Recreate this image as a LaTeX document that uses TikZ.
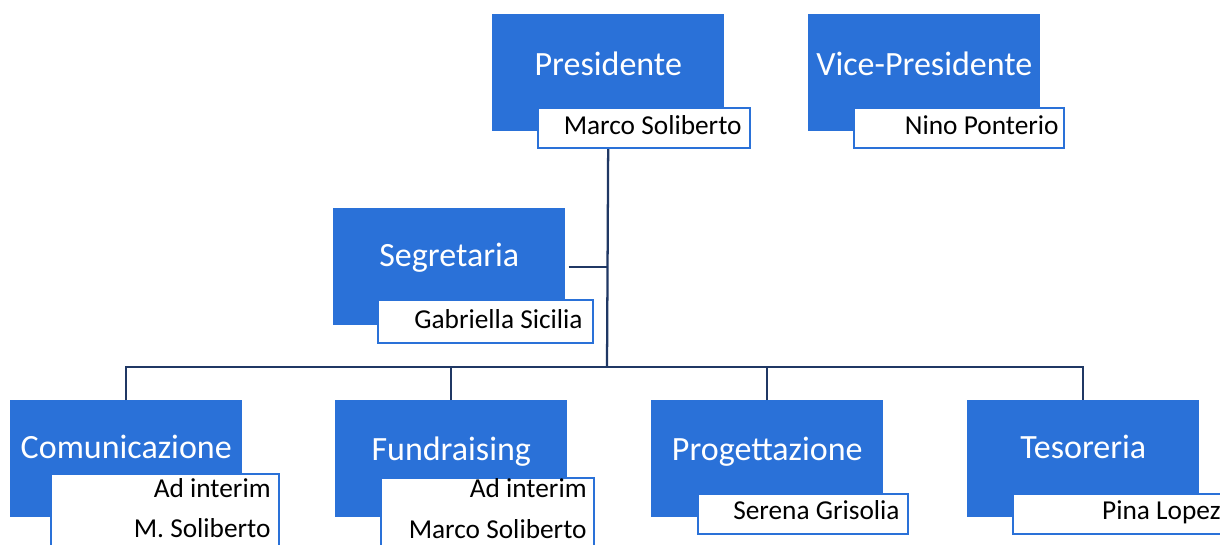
\documentclass[tikz,border=0pt]{standalone}
\usepackage{fontspec}
\setmainfont{Carlito}
\usetikzlibrary{calc}
\definecolor{boxblue}{RGB}{42,113,216}
\definecolor{linenavy}{RGB}{32,56,100}
\begin{document}
\begin{tikzpicture}[x=0.75pt,y=-0.75pt,
  role/.style={rectangle, fill=boxblue, draw=none, minimum width=174pt, minimum height=87.75pt, anchor=north west, inner sep=0pt},
  namebox/.style={rectangle, fill=white, draw=boxblue, line width=1.4pt, anchor=north west, inner sep=0pt},
  roletext/.style={text=white, font=\fontsize{25.5}{30}\selectfont, anchor=base, inner sep=0pt},
  nametext/.style={text=black, font=\fontsize{20.5}{25}\selectfont, anchor=base east, inner sep=0pt},
  conn/.style={draw=linenavy, line width=1.7pt}]
\useasboundingbox (0,0) rectangle (1220,544);
\clip (0,0) rectangle (1220,544);
% role boxes
\node[role] (pres) at (492,14) {};
\node[role] (vp) at (808,14) {};
\node[role] (seg) at (333,208) {};
\node[role] (com) at (10,400) {};
\node[role] (fund) at (335,400) {};
\node[role] (prog) at (651,400) {};
\node[role] (tes) at (967,400) {};
% connectors
\coordinate (bus) at (607,367);
\draw[conn] (pres.south) -- (bus);
\draw[conn] (com.north) |- (bus) -| (tes.north);
\draw[conn] (fund.north) -- (fund.north |- bus);
\draw[conn] (prog.north) -- (prog.north |- bus);
\draw[conn] ([xshift=2.25pt]seg.east) -- (seg.east -| bus);
% name boxes
\node[namebox, minimum width=159pt, minimum height=30pt] (presn) at (537,107) {};
\node[namebox, minimum width=157.5pt, minimum height=30pt] (vpn) at (853,107) {};
\node[namebox, minimum width=161.25pt, minimum height=32.25pt] (segn) at (377,299) {};
\node[namebox, minimum width=171pt, minimum height=75pt] (comn) at (50,473) {};
\node[namebox, minimum width=159.75pt, minimum height=75pt] (fundn) at (380,477) {};
\node[namebox, minimum width=157.5pt, minimum height=30pt] (progn) at (697,493) {};
\node[namebox, minimum width=162pt, minimum height=30pt] (tesn) at (1012,493) {};
% role labels
\node[roletext] (presl) at ($(pres.north)+(0,61)$) {Presidente};
\node[roletext] (vpl) at ($(vp.north)+(0,61)$) {Vice-Presidente};
\node[roletext] (segl) at ($(seg.north)+(0,58)$) {Segretaria};
\node[roletext] (coml) at ($(com.north)+(0,58)$) {Comunicazione};
\node[roletext] (fundl) at ($(fund.north)+(0,60)$) {Fundraising};
\node[roletext] (progl) at ($(prog.north)+(0,60)$) {Progettazione};
\node[roletext] (tesl) at ($(tes.north)+(0,58)$) {Tesoreria};
% names
\node[nametext] (presnt) at ($(presn.south east)+(-9,-14)$) {Marco Soliberto};
\node[nametext] (vpnt) at ($(vpn.south east)+(-6,-14)$) {Nino Ponterio};
\node[nametext] (segnt) at ($(segn.south east)+(-11,-15)$) {Gabriella Sicilia};
\node[nametext] (comnt1) at ($(comn.north east)+(-9,24)$) {Ad interim};
\node[nametext] (comnt2) at ($(comn.north east)+(-9,64)$) {M. Soliberto};
\node[nametext] (fundnt1) at ($(fundn.north east)+(-8,20)$) {Ad interim};
\node[nametext] (fundnt2) at ($(fundn.north east)+(-8,61)$) {Marco Soliberto};
\node[nametext] (prognt) at ($(progn.south east)+(-9,-15)$) {Serena Grisolia};
\node[nametext] (tesnt) at ($(tesn.south east)+(-9,-15)$) {Pina Lopez};
\end{tikzpicture}
\end{document}
